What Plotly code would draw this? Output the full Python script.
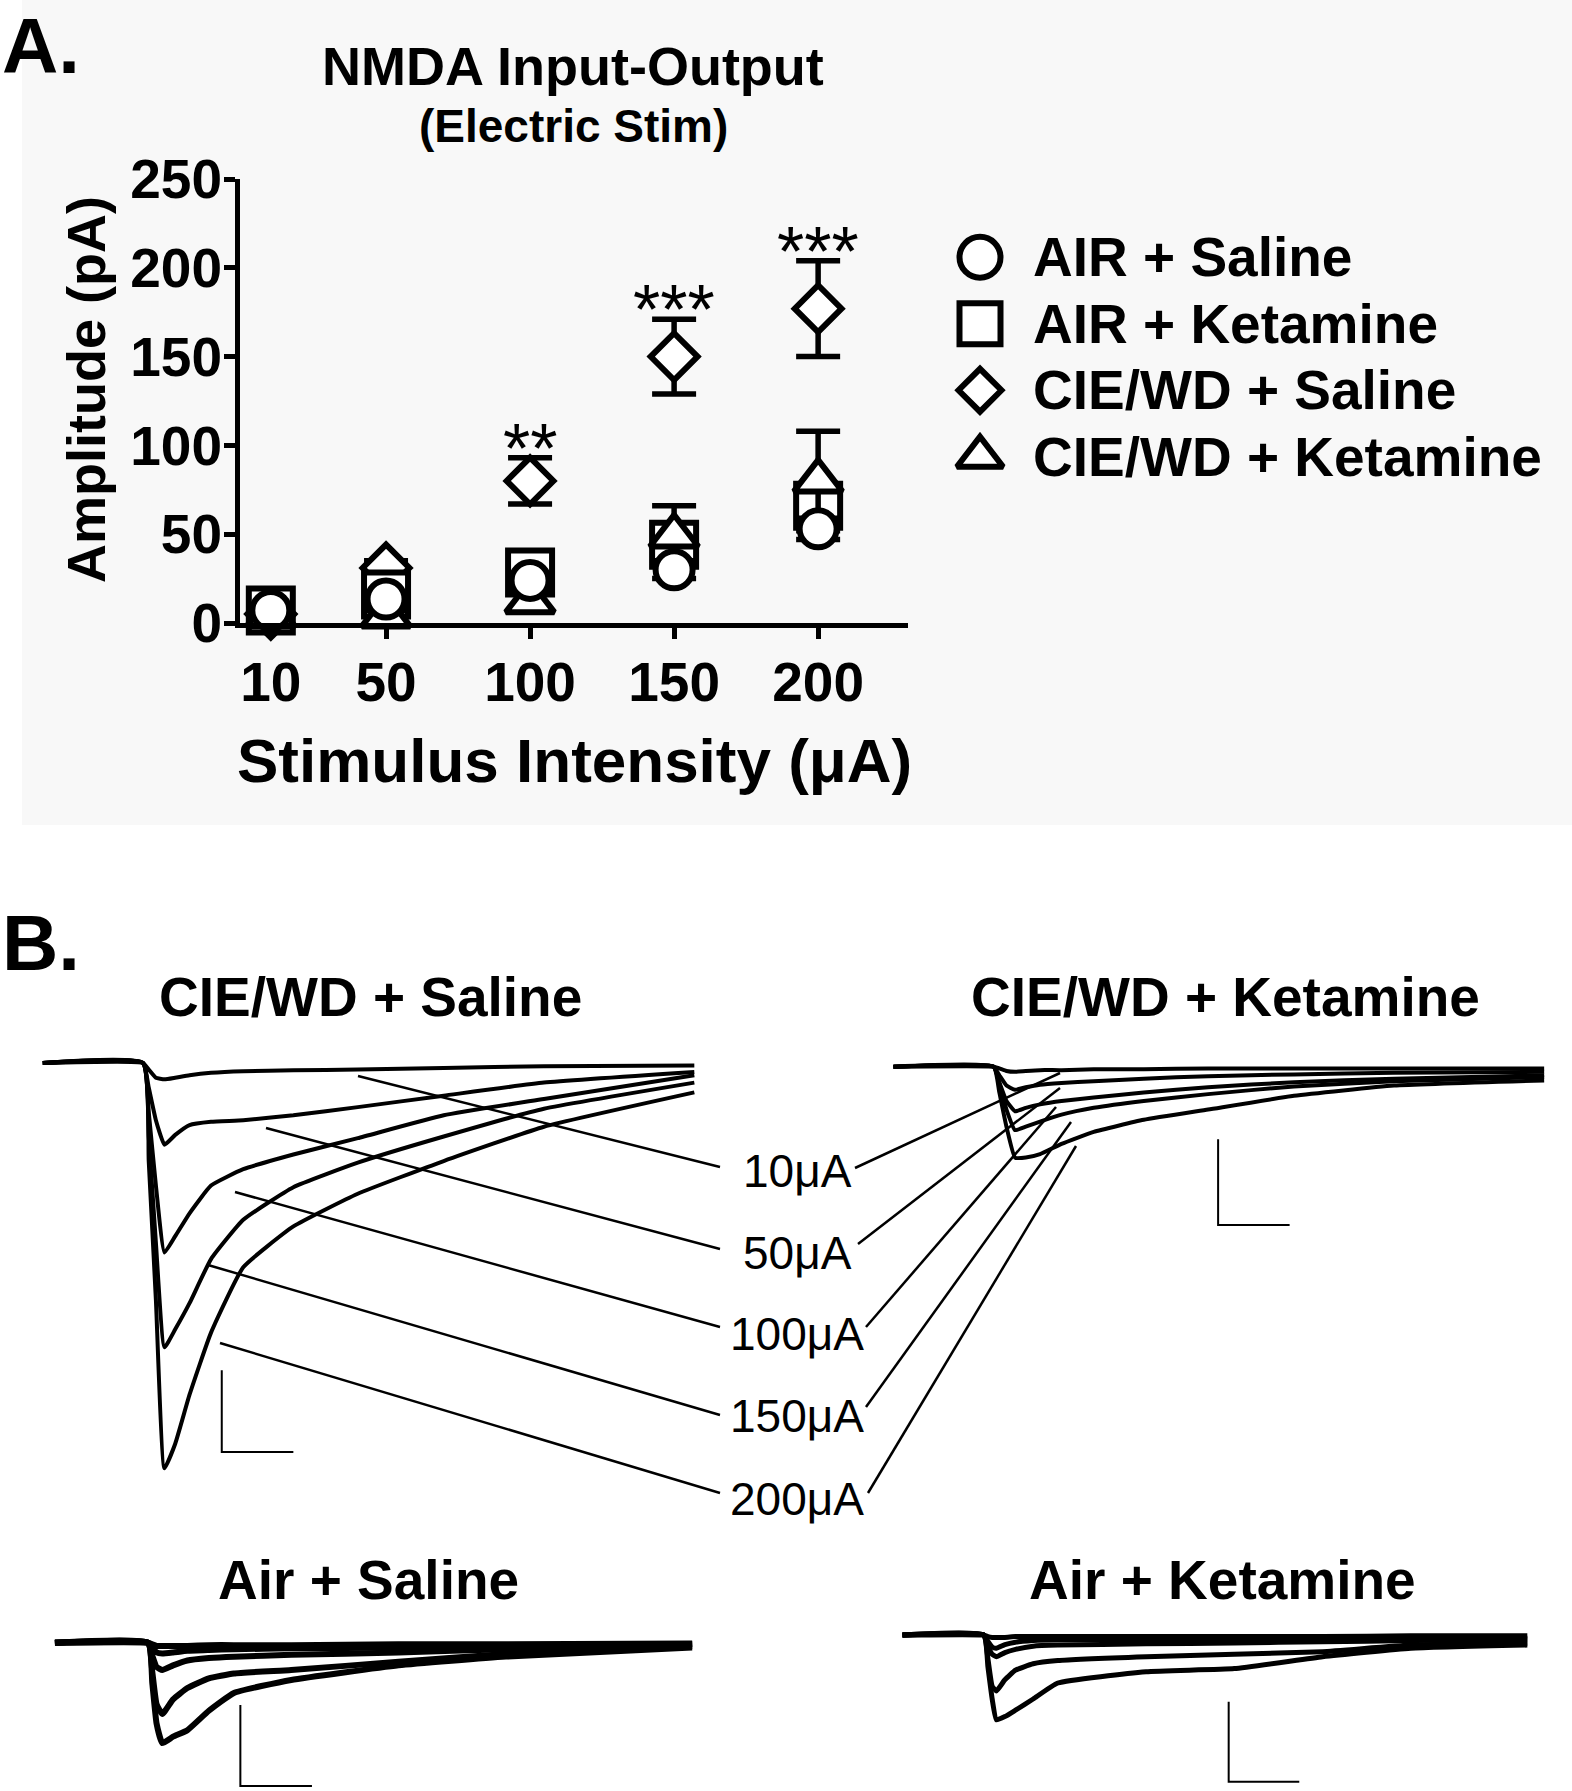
import plotly.graph_objects as go

# ---------------- Panel A: NMDA input-output (mean +/- SEM)
stim_ua = [10, 50, 100, 150, 200]
air_saline = [7, 13.5, 24, 30, 53]
air_saline_sem = [1, 3, 4, 5, 6]
air_ketamine = [7, 16, 28.5, 44, 66]
air_ketamine_sem = [1, 4, 6, 10, 12]
cie_saline = [5, 31, 80, 150, 177]
cie_saline_sem = [2, 4, 13, 21, 27]
cie_ketamine = [4, 4, 12, 49, 80]
cie_ketamine_sem = [2, 3, 5, 17, 28]
sig_x = [100, 150, 200]
sig_text = ['**', '***', '***']
group_names = ['AIR + Saline', 'AIR + Ketamine', 'CIE/WD + Saline', 'CIE/WD + Ketamine']

# ---------------- Panel B: example traces, time (ms) vs current (pA)
intensity_labels = ['10μA', '50μA', '100μA', '150μA', '200μA']

t_cie_saline = [-140, 0, 8, 18, 30, 45, 65, 95, 140, 210, 300, 420, 560, 770]
cie_saline_traces = [
    [0, 0, -4, -9, -10, -9, -7.5, -6, -5, -4.5, -4, -3, -2, -1.5],
    [0, 0, -15, -35, -50, -44, -38, -36, -35, -32, -27, -20, -12, -5.5],
    [0, 0, -30, -75, -116, -106, -92, -75, -65, -56, -46, -32, -22, -7.5],
    [0, 0, -45, -110, -174, -163, -147, -120, -96, -76, -61, -45, -28, -12],
    [0, 0, -60, -145, -248, -233, -203, -165, -125, -100, -80, -60, -39, -18],
]

t_cie_ketamine = [-140, 0, 8, 18, 30, 45, 65, 95, 140, 210, 300, 420, 560, 770]
cie_ketamine_traces = [
    [0, 0, -1, -2.5, -3, -2.5, -2, -2, -1.5, -1.5, -1, -1, -1, -1],
    [0, 0, -5, -11, -13.5, -12, -10.5, -9.5, -8.5, -7, -5.5, -4.5, -3.5, -3],
    [0, 0, -9, -20, -26, -24, -22, -20, -18, -15, -12, -9, -7, -5],
    [0, 0, -10, -25, -37, -35, -32, -28, -24, -20, -16, -11.5, -8.5, -6],
    [0, 0, -15, -35, -53, -53, -51, -45, -38, -31, -25, -17, -11, -8],
]

t_air_saline = [-130, 0, 6, 12, 20, 35, 55, 85, 120, 200, 350, 500, 760]
air_saline_traces = [
    [0, 0, -1, -2, -2, -2, -2, -1.5, -1.5, -1.5, -1, -1, -0.5],
    [0, 0, -3, -6, -6.6, -6, -5, -4.5, -4, -3.5, -3, -2, -1],
    [0, 0, -8, -15, -16.8, -14, -11, -9.5, -8.6, -7.5, -6, -4, -1],
    [0, 0, -18, -38, -44, -35, -28, -22, -19, -16.8, -11.8, -7, -2],
    [0, 0, -25, -50, -62, -58, -54, -42, -31, -23, -14, -8.6, -3],
]

t_air_ketamine = [-115, 0, 6, 12, 18, 30, 45, 70, 105, 230, 355, 480, 605, 770]
air_ketamine_traces = [
    [0, 0, -1, -1.5, -1.5, -1.5, -1, -1, -1, -1, -1, -1, -0.5, -0.5],
    [0, 0, -4, -7.5, -8.3, -6, -4.5, -3.5, -3, -3, -3, -2.5, -2.5, -2],
    [0, 0, -7, -12, -13.6, -11, -9, -7, -6.3, -5.5, -5, -4.2, -3.5, -3.1],
    [0, 0, -15, -32, -35, -28, -22, -18, -16, -13.6, -12, -10.4, -6.3, -5.2],
    [0, 0, -20, -40, -53, -51, -47, -40, -30, -23, -21, -13.6, -8.3, -6.3],
]
scale_ms = 100
scale_pa = 50

# ---------------- layout helpers (pixel -> paper)
W, H = 1572, 1791
FONT = 'Liberation Sans, Arial, Helvetica, sans-serif'


def fx(x):
    return x / W


def fy(y):
    return 1 - y / H


fig = go.Figure()
annotations = []
shapes = []

# faint panel-A background
shapes.append(dict(type='rect', xref='paper', yref='paper', x0=fx(22), x1=1, y0=fy(825), y1=1,
                   fillcolor='#f8f8f8', line=dict(width=0), layer='below'))

# ---- panel A markers, drawn bottom-to-top like the original
series = [
    (cie_saline, cie_saline_sem, 'diamond', 36),
    (air_ketamine, air_ketamine_sem, 'square', 44),
    (cie_ketamine, cie_ketamine_sem, 'triangle-up', 42),
    (air_saline, air_saline_sem, 'circle', 37),
]
for y, err, sym, size in series:
    fig.add_trace(go.Scatter(
        x=stim_ua, y=y, mode='markers', xaxis='x', yaxis='y', cliponaxis=False,
        marker=dict(symbol=sym, size=size, color='white', opacity=1,
                    line=dict(color='black', width=6)),
        error_y=dict(type='data', array=err, color='black', thickness=5.5, width=22),
        showlegend=False, hoverinfo='skip'))

# significance stars sit on top of the CIE/WD + Saline error bars
for xs, txt in zip(sig_x, sig_text):
    i = stim_ua.index(xs)
    annotations.append(dict(x=xs, y=cie_saline[i] + cie_saline_sem[i], xref='x', yref='y',
                            text=txt, showarrow=False, yanchor='bottom', yshift=-32,
                            font=dict(family=FONT, size=70, color='black')))

tick_font = dict(family=FONT, size=55, color='black', weight='bold')
fig.update_layout(
    xaxis=dict(domain=[fx(240), fx(908)], range=[-0.7, 231.2], anchor='y',
               showline=True, linewidth=5, linecolor='black', ticks='outside', ticklen=11,
               tickwidth=5, tickcolor='black', tickvals=stim_ua, tickfont=tick_font,
               ticklabelstandoff=-4, showgrid=False, zeroline=False, fixedrange=True),
    yaxis=dict(domain=[fy(623), fy(179)], range=[0, 250], anchor='x',
               showline=True, linewidth=5, linecolor='black', ticks='outside', ticklen=11,
               tickwidth=5, tickcolor='black', tickvals=[0, 50, 100, 150, 200, 250],
               tickfont=tick_font, ticklabelstandoff=-9, showgrid=False, zeroline=False,
               fixedrange=True),
)

# custom legend with large symbols
legend_syms = [('circle', 41), ('square', 41), ('diamond', 33), ('triangle-up', 40)]
fig.add_trace(go.Scatter(
    x=[0] * len(group_names), y=list(range(len(group_names))), mode='markers',
    xaxis='x6', yaxis='y6', cliponaxis=False,
    marker=dict(symbol=[s for s, _ in legend_syms], size=[z for _, z in legend_syms],
                color='white', opacity=1, line=dict(color='black', width=6)),
    showlegend=False, hoverinfo='skip'))
for i, name in enumerate(group_names):
    annotations.append(dict(x=fx(1031), y=i, xref='paper', yref='y6', text=f'<b>{name}</b>',
                            showarrow=False, xanchor='left', yanchor='middle',
                            font=dict(family=FONT, size=55, color='black')))
fig.update_layout(
    xaxis6=dict(domain=[fx(960), fx(1000)], range=[-1, 1], visible=False, anchor='y6', fixedrange=True),
    yaxis6=dict(domain=[fy(490), fy(224)], range=[3.5, -0.5], visible=False, anchor='x6', fixedrange=True),
)

# panel A texts
annotations += [
    dict(x=0, y=1, text='<b>A.</b>', xanchor='left', yanchor='top', font=dict(size=78)),
    dict(x=fx(573), y=fy(66), text='<b>NMDA Input-Output</b>', font=dict(size=54)),
    dict(x=fx(573), y=fy(126), text='<b>(Electric Stim)</b>', font=dict(size=46)),
    dict(x=fx(86), y=fy(390), text='<b>Amplitude (pA)</b>', textangle=-90, font=dict(size=54)),
    dict(x=fx(574), y=fy(760), text='<b>Stimulus Intensity (μA)</b>', font=dict(size=62)),
    dict(x=0, y=fy(943), text='<b>B.</b>', xanchor='left', font=dict(size=78)),
]

# ---- panel B trace panels
# (title, t, traces, box px (x0, x1, y0, y1), origin px, px/ms, px/pA, scale-bar corner, line width, title px)
panels = [
    ('CIE/WD + Saline', t_cie_saline, cie_saline_traces, (30, 710, 1040, 1490), (143, 1063),
     0.716, 1.634, (110, -238), 4, (370, 997)),
    ('CIE/WD + Ketamine', t_cie_ketamine, cie_ketamine_traces, (880, 1560, 1040, 1240), (993.6, 1066.7),
     0.715, 1.714, (314, -92.4), 4, (1225, 997)),
    ('Air + Saline', t_air_saline, air_saline_traces, (40, 720, 1610, 1791), (148, 1642.7),
     0.716, 1.62, (129, -88.5), 6, (368, 1580)),
    ('Air + Ketamine', t_air_ketamine, air_ketamine_traces, (890, 1545, 1600, 1791), (983.7, 1635),
     0.706, 1.6, (347, -91.7), 5, (1222, 1580)),
]
for k, (title, t, traces, box, origin, kx, ky, bar, lw, tpos) in enumerate(panels):
    n = k + 2
    xa, ya = f'x{n}', f'y{n}'
    x0, x1, y0, y1 = box
    ox, oy = origin
    fig.layout[f'xaxis{n}'] = dict(domain=[fx(x0), fx(x1)], range=[(x0 - ox) / kx, (x1 - ox) / kx],
                                   visible=False, anchor=ya, fixedrange=True)
    fig.layout[f'yaxis{n}'] = dict(domain=[fy(y1), fy(y0)], range=[-(y1 - oy) / ky, -(y0 - oy) / ky],
                                   visible=False, anchor=xa, fixedrange=True)
    for tr in traces:
        fig.add_trace(go.Scatter(x=t, y=tr, mode='lines', xaxis=xa, yaxis=ya,
                                 line=dict(color='black', width=lw, shape='spline', smoothing=0.4),
                                 showlegend=False, hoverinfo='skip'))
    bt, bi = bar
    fig.add_trace(go.Scatter(x=[bt, bt, bt + scale_ms], y=[bi + scale_pa, bi, bi], mode='lines',
                             xaxis=xa, yaxis=ya, line=dict(color='black', width=2),
                             showlegend=False, hoverinfo='skip'))
    annotations.append(dict(x=fx(tpos[0]), y=fy(tpos[1]), text=f'<b>{title}</b>', font=dict(size=55)))

# intensity labels and their leader lines
label_y = [1171, 1253, 1334, 1416, 1499]
left_lines = [((358, 1076), (720, 1167)), ((266, 1128), (720, 1249)), ((235, 1192), (720, 1327)),
              ((208, 1265), (720, 1415)), ((220, 1343), (720, 1493))]
right_lines = [((855, 1168), (1060, 1073)), ((858, 1244), (1060, 1088)), ((866, 1327), (1056, 1107)),
               ((866, 1407), (1071, 1122)), ((868, 1493), (1076, 1146))]
for lab, ly, la, rb in zip(intensity_labels, label_y, left_lines, right_lines):
    annotations.append(dict(x=fx(797), y=fy(ly), text=lab, font=dict(size=46)))
    for (ax0, ay0), (ax1, ay1) in (la, rb):
        shapes.append(dict(type='line', xref='paper', yref='paper', x0=fx(ax0), y0=fy(ay0),
                           x1=fx(ax1), y1=fy(ay1), line=dict(color='black', width=2.5)))

for a in annotations:
    a.setdefault('xref', 'paper')
    a.setdefault('yref', 'paper')
    a.setdefault('showarrow', False)
    a.setdefault('xanchor', 'center')
    a.setdefault('yanchor', 'middle')
    f = a.setdefault('font', {})
    f.setdefault('family', FONT)
    f.setdefault('color', 'black')

fig.update_layout(
    width=W, height=H, margin=dict(l=0, r=0, t=0, b=0, pad=0, autoexpand=False),
    paper_bgcolor='white', plot_bgcolor='rgba(0,0,0,0)',
    font=dict(family=FONT, color='black'),
    annotations=annotations, shapes=shapes, showlegend=False,
)

fig.write_html('out.html', config={'displayModeBar': False},
               post_script="document.body.style.margin='0';")
